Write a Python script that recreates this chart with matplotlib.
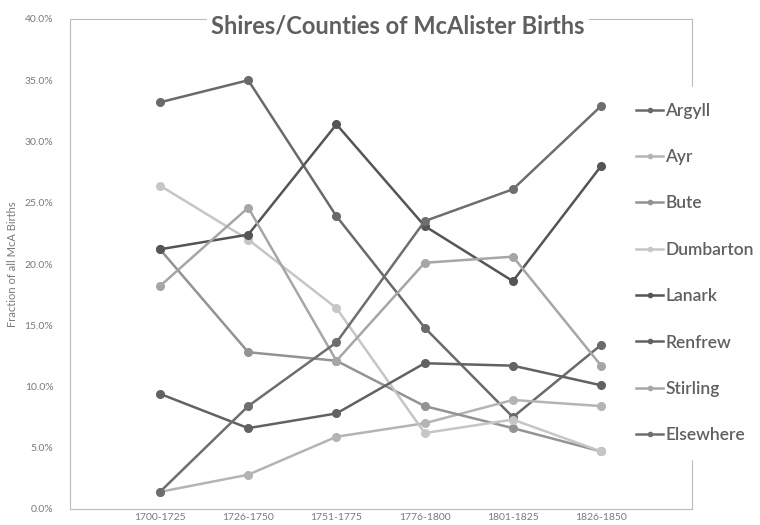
import matplotlib
matplotlib.use("Agg")
import matplotlib.pyplot as plt
from matplotlib.ticker import FuncFormatter

plt.rcParams['font.family'] = ['Lato', 'DejaVu Sans']

periods = ["1700-1725", "1726-1750", "1751-1775", "1776-1800", "1801-1825", "1826-1850"]

# percent of all McA births per shire
argyll = [33.2, 35.0, 23.9, 14.8, 7.5, 13.4]
ayr = [1.4, 2.8, 5.9, 7.0, 8.9, 8.4]
bute = [21.2, 12.8, 12.1, 8.4, 6.6, 4.7]
dumbarton = [26.4, 22.0, 16.4, 6.2, 7.3, 4.7]
lanark = [21.2, 22.4, 31.4, 23.1, 18.6, 28.0]
renfrew = [9.4, 6.6, 7.8, 11.9, 11.7, 10.1]
stirling = [18.2, 24.6, 12.1, 20.1, 20.6, 11.7]
elsewhere = [1.4, 8.4, 13.6, 23.5, 26.1, 32.9]

series = [
    ("Argyll", argyll, "#6a6a6a"),
    ("Ayr", ayr, "#b4b4b4"),
    ("Bute", bute, "#939393"),
    ("Dumbarton", dumbarton, "#c6c6c6"),
    ("Lanark", lanark, "#555555"),
    ("Renfrew", renfrew, "#626262"),
    ("Stirling", stirling, "#a6a6a6"),
    ("Elsewhere", elsewhere, "#6e6e6e"),
]

fig = plt.figure(figsize=(7.6, 5.25), dpi=100)
ax = fig.add_axes([70/760, 1-509/525, (692-70)/760, (509-19)/525])

x = list(range(len(periods)))
for name, vals, col in series:
    ax.plot(x, vals, color=col, lw=1.8, marker="o", ms=5.5, label=name)

ax.set_xlim(-1.02, 6.03)
ax.set_ylim(0, 40)
ax.set_yticks(range(0, 41, 5))
ax.yaxis.set_major_formatter(FuncFormatter(lambda v, p: f"{v:.1f}%"))
ax.set_xticks(x)
ax.set_xticklabels(periods)
ax.tick_params(length=0, labelsize=7.5, colors="#7a7a7a")
ax.tick_params(axis="x", pad=3)
ax.tick_params(axis="y", pad=12)

for s in ax.spines.values():
    s.set_color("#bcbcbc")
    s.set_linewidth(0.8)
    s.set_linestyle((0, (2, 1)))

ax.set_ylabel("Fraction of all McA Births", fontsize=8, color="#7a7a7a", labelpad=5)

fig.text(398/760, 1-26/525, "Shires/Counties of McAlister Births", ha="center", va="center",
         fontsize=17, fontweight="bold", color="#5f5f5f",
         bbox=dict(facecolor="white", edgecolor="none", pad=3))

leg = ax.legend(loc="center left", bbox_to_anchor=(620/760, 1-273/525),
                bbox_transform=fig.transFigure, fontsize=12.5, frameon=True,
                facecolor="white", edgecolor="white", framealpha=1,
                handlelength=1.6, handletextpad=0.1, labelspacing=1.75,
                markerscale=0.55, borderpad=0.9, borderaxespad=0)
for t in leg.get_texts():
    t.set_color("#606060")
    t.set_fontweight("semibold")

fig.savefig("out.png", dpi=100)
